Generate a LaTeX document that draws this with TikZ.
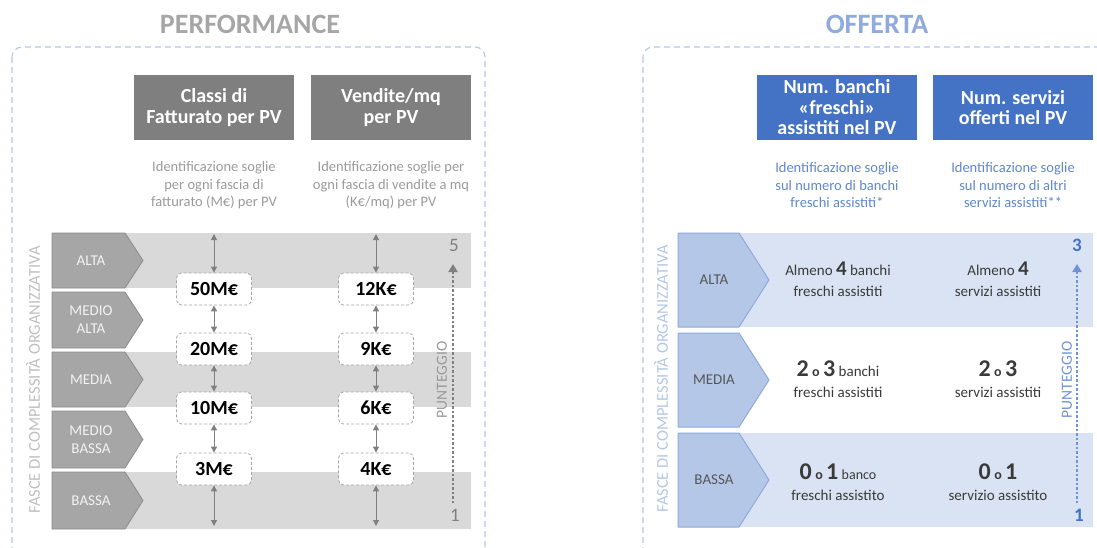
\documentclass[tikz,border=0pt]{standalone}
\usepackage{fontspec}
\setmainfont{Carlito}
\usetikzlibrary{arrows.meta}
\definecolor{framec}{HTML}{B4C7E7}
\definecolor{titgray}{HTML}{A6A6A6}
\definecolor{titblue}{HTML}{8FAADC}
\definecolor{headgray}{HTML}{7F7F7F}
\definecolor{headblue}{HTML}{4472C4}
\definecolor{descgray}{HTML}{9A9A9A}
\definecolor{descblue}{HTML}{5F86CC}
\definecolor{bandgray}{HTML}{D9D9D9}
\definecolor{bandblue}{HTML}{DAE3F3}
\definecolor{pentgray}{HTML}{A6A6A6}
\definecolor{pentgrayb}{HTML}{8C8C8C}
\definecolor{pentblue}{HTML}{B4C7E7}
\definecolor{pentblueb}{HTML}{8FAADC}
\definecolor{boxgray}{HTML}{A6A6A6}
\definecolor{arrgray}{HTML}{7F7F7F}
\definecolor{fascegray}{HTML}{BFBFBF}
\definecolor{rowtxtc}{HTML}{3A3A3A}
\definecolor{puntblue}{HTML}{6F93D6}
\newcommand\bnum[1]{{\fontsize{24}{24}\selectfont\bfseries #1}}
\newcommand\mnum[1]{{\fontsize{21}{21}\selectfont\bfseries #1}}
\newcommand\smo{{\fontsize{14}{14}\selectfont\bfseries o}}
\tikzset{
  frame/.style={draw=framec, line width=1.1pt, dash pattern=on 6pt off 4pt, rounded corners=10pt},
  ghead/.style={fill=headgray, text=white, font=\bfseries\fontsize{20}{20.5}\selectfont, align=center, minimum width=160pt, minimum height=65pt, inner sep=0pt},
  bhead/.style={ghead, fill=headblue},
  gdesc/.style={text=descgray, font=\fontsize{14.5}{17.5}\selectfont, align=center, inner sep=0pt},
  bdesc/.style={gdesc, text=descblue},
  valbox/.style={draw=boxgray, fill=white, line width=0.8pt, dash pattern=on 3pt off 2pt, rounded corners=5pt, minimum width=75pt, minimum height=32pt, inner sep=0pt, font=\bfseries\fontsize{20}{20}\selectfont, text=black},
  dbl/.style={draw=arrgray, line width=1pt, {Triangle[length=6pt,width=6pt]}-{Triangle[length=6pt,width=6pt]}},
  gpent/.style={fill=pentgray, draw=pentgrayb, line width=0.8pt},
  bpent/.style={fill=pentblue, draw=pentblueb, line width=1pt},
  gplab/.style={text=white!95!black, font=\fontsize{15}{18}\selectfont, align=center, inner sep=0pt},
  bplab/.style={text=rowtxtc!85!white, font=\fontsize{15}{18}\selectfont, align=center, inner sep=0pt},
  rowtxt/.style={text=rowtxtc, font=\fontsize{15}{21}\selectfont, align=center, inner sep=0pt},
  gdot/.style={draw=arrgray, line width=2.3pt, dash pattern=on 2.3pt off 2.2pt, -{Triangle[length=8pt,width=9pt]}},
  bdot/.style={gdot, draw=puntblue},
  gnum/.style={text=arrgray, font=\fontsize{19}{19}\selectfont, inner sep=0pt},
  bnumst/.style={text=headblue, font=\bfseries\fontsize{19}{19}\selectfont, inner sep=0pt},
  vlab/.style={rotate=90, font=\fontsize{16.5}{16.5}\selectfont, inner sep=0pt},
  plab/.style={rotate=90, font=\fontsize{15.5}{15.5}\selectfont, inner sep=0pt},
}
\begin{document}
\begin{tikzpicture}[x=1pt,y=-1pt]
\useasboundingbox (0,0) rectangle (1097,548);
\clip (0,0) rectangle (1097,548);
% ---------------- PERFORMANCE ----------------
\node[text=titgray, font=\bfseries\fontsize{28}{30}\selectfont] (perf) at (250,24) {PERFORMANCE};
\draw[frame] (12,47) rectangle (485,620);
\node[ghead] (h1) at (214,107.5) {Classi di\\Fatturato per PV};
\node[ghead] (h2) at (391,107.5) {Vendite/mq\\per PV};
\node[gdesc] (d1) at (214,185.5) {Identificazione soglie\\per ogni fascia di\\fatturato (M€) per PV};
\node[gdesc] (d2) at (391,185.5) {Identificazione soglie per\\ogni fascia di vendite a mq\\(K€/mq) per PV};
% bands
\fill[bandgray] (52,233) rectangle (471,288);
\fill[bandgray] (52,352) rectangle (471,407);
\fill[bandgray] (52,472) rectangle (471,529);
% pentagons
\foreach \t/\b/\lab/\nm in {233/288/ALTA/pa, 292/348/{MEDIO\\ALTA}/pma, 352/407/MEDIA/pm, 411/468/{MEDIO\\BASSA}/pmb, 472/529/BASSA/pb}{
  \pgfmathsetmacro\mid{(\t+\b)/2}
  \draw[gpent] (52,\t) -- (125,\t) -- (143,\mid) -- (125,\b) -- (52,\b) -- cycle;
  \node[gplab] (\nm) at (91,\mid) {\lab};
}
\node[vlab, text=fascegray] (fasceL) at (33,380) {FASCE DI COMPLESSITÀ ORGANIZZATIVA};
% value boxes
\node[valbox] (v1) at (214,289) {50M€};
\node[valbox] (v2) at (214,349) {20M€};
\node[valbox] (v3) at (214,408) {10M€};
\node[valbox] (v4) at (214,469) {3M€};
\node[valbox] (w1) at (376,289) {12K€};
\node[valbox] (w2) at (376,349) {9K€};
\node[valbox] (w3) at (376,408) {6K€};
\node[valbox] (w4) at (376,469) {4K€};
\coordinate (vt) at (214,234);
\coordinate (vb) at (214,526);
\coordinate (wt) at (376,234);
\coordinate (wb) at (376,526);
\draw[dbl] (vt) -- (v1.north);
\draw[dbl] (v1.south) -- (v2.north);
\draw[dbl] (v2.south) -- (v3.north);
\draw[dbl] (v3.south) -- (v4.north);
\draw[dbl] (v4.south) -- (vb);
\draw[dbl] (wt) -- (w1.north);
\draw[dbl] (w1.south) -- (w2.north);
\draw[dbl] (w2.south) -- (w3.north);
\draw[dbl] (w3.south) -- (w4.north);
\draw[dbl] (w4.south) -- (wb);
% punteggio
\node[gnum] (n5) at (454,245) {5};
\node[gnum] (n1) at (455,515) {1};
\coordinate (gpb) at (453,503);
\coordinate (gpt) at (453,264);
\draw[gdot] (gpb) -- (gpt);
\node[plab, text=descgray] (puntL) at (442,380) {PUNTEGGIO};
% ---------------- OFFERTA ----------------
\node[text=titblue, font=\bfseries\fontsize{28}{30}\selectfont] (off) at (877,24) {OFFERTA};
\draw[frame] (643,47) rectangle (1130,620);
\node[bhead] (h3) at (837,107.5) {Num. banchi\\«freschi»\\assistiti nel PV};
\node[bhead] (h4) at (1013,107.5) {Num. servizi\\offerti nel PV};
\node[bdesc] (d3) at (837,185.5) {Identificazione soglie\\sul numero di banchi\\freschi assistiti*};
\node[bdesc] (d4) at (1013,185.5) {Identificazione soglie\\sul numero di altri\\servizi assistiti**};
% bands
\fill[bandblue] (678,233) rectangle (1093,327);
\fill[bandblue] (678,433) rectangle (1093,527);
\foreach \t/\b/\lab/\nm in {233/327/ALTA/qa, 333/427/MEDIA/qm, 433/527/BASSA/qb}{
  \pgfmathsetmacro\mid{(\t+\b)/2}
  \draw[bpent] (678,\t) -- (739,\t) -- (769,\mid) -- (739,\b) -- (678,\b) -- cycle;
  \node[bplab] (\nm) at (714,\mid) {\lab};
}
\node[vlab, text=framec] (fasceR) at (661,379) {FASCE DI COMPLESSITÀ ORGANIZZATIVA};
\node[rowtxt] (ra1) at (838,279) {Almeno \mnum{4} banchi\\freschi assistiti};
\node[rowtxt] (ra2) at (998,279) {Almeno \mnum{4}\\servizi assistiti};
\node[rowtxt] (rm1) at (838,379) {\bnum{2} \smo{} \bnum{3} banchi\\freschi assistiti};
\node[rowtxt] (rm2) at (998,379) {\bnum{2} \smo{} \bnum{3}\\servizi assistiti};
\node[rowtxt] (rb1) at (838,482) {\bnum{0} \smo{} \bnum{1} {\fontsize{14}{14}\selectfont banco}\\freschi assistito};
\node[rowtxt] (rb2) at (998,482) {\bnum{0} \smo{} \bnum{1}\\servizio assistito};
\node[bnumst] (m3) at (1077,245) {3};
\node[bnumst] (m1) at (1079,515) {1};
\coordinate (bpb) at (1077,503);
\coordinate (bpt) at (1077,264);
\draw[bdot] (bpb) -- (bpt);
\node[plab, text=puntblue] (puntR) at (1067,380) {PUNTEGGIO};
\end{tikzpicture}
\end{document}
